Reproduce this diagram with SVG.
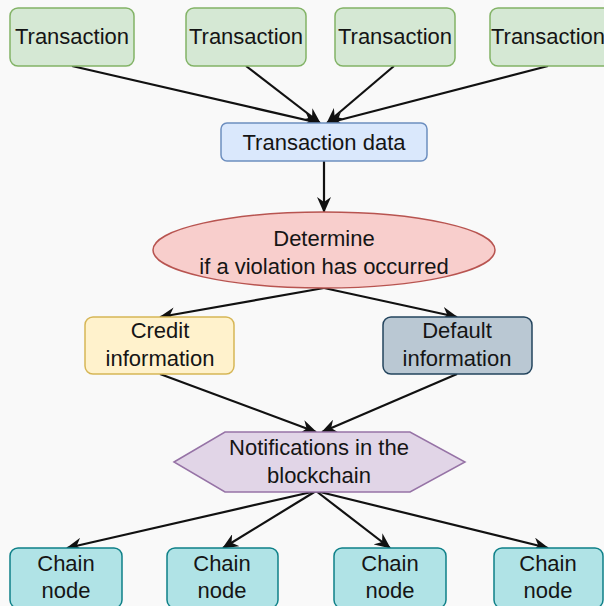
<svg xmlns="http://www.w3.org/2000/svg" width="604" height="606" viewBox="0 0 604 606">
  <style>
    .lbl { font-family: "Liberation Sans", Arial, sans-serif; font-size: 22px; fill: #151515; text-anchor: middle; dominant-baseline: central; }
    .tx { fill: #d5e8d4; stroke: #82b366; stroke-width: 1.5; }
    .data { fill: #dae8fc; stroke: #6c8ebf; stroke-width: 1.5; }
    .check { fill: #f8cecc; stroke: #b85450; stroke-width: 1.5; }
    .credit { fill: #fff2cc; stroke: #d6b656; stroke-width: 1.5; }
    .default { fill: #bac8d3; stroke: #23445d; stroke-width: 1.5; }
    .notify { fill: #e1d5e7; stroke: #9673a6; stroke-width: 1.5; }
    .chain { fill: #b0e3e6; stroke: #0e8088; stroke-width: 1.5; }
    .edge { fill: none; stroke: #111; stroke-width: 2.2; marker-end: url(#arrow); }
  </style>
  <defs>
    <!-- notched arrowhead shared by all connectors -->
    <marker id="arrow" viewBox="0 0 16 14" refX="15" refY="7" markerWidth="16" markerHeight="14" markerUnits="userSpaceOnUse" orient="auto">
      <path d="M0,0 L16,7 L0,14 L5,7 Z" fill="#111"/>
    </marker>
  </defs>
  <rect width="604" height="606" fill="#f9f9f9"/>

  <g id="connectors">
    <line class="edge" x1="72" y1="66" x2="319" y2="123"/>
    <line class="edge" x1="246" y1="66" x2="320" y2="123"/>
    <line class="edge" x1="394" y1="66" x2="327" y2="123"/>
    <line class="edge" x1="548" y1="66" x2="328" y2="123"/>
    <line class="edge" x1="324" y1="161" x2="324" y2="212"/>
    <line class="edge" x1="324" y1="288" x2="160" y2="317"/>
    <line class="edge" x1="324" y1="288" x2="457" y2="317"/>
    <line class="edge" x1="160" y1="374" x2="316" y2="432"/>
    <line class="edge" x1="457" y1="374" x2="322" y2="432"/>
    <line class="edge" x1="316" y1="491" x2="67" y2="548"/>
    <line class="edge" x1="316" y1="491" x2="223" y2="548"/>
    <line class="edge" x1="316" y1="491" x2="390" y2="548"/>
    <line class="edge" x1="316" y1="491" x2="548" y2="548"/>
  </g>

  <g id="tx1"><rect class="tx" x="10" y="8" width="124" height="58" rx="8"/><text class="lbl" x="72" y="36">Transaction</text></g>
  <g id="tx2"><rect class="tx" x="186" y="8" width="120" height="58" rx="8"/><text class="lbl" x="246" y="36">Transaction</text></g>
  <g id="tx3"><rect class="tx" x="335" y="8" width="120" height="58" rx="8"/><text class="lbl" x="395" y="36">Transaction</text></g>
  <g id="tx4"><rect class="tx" x="490" y="8" width="124" height="58" rx="8"/><text class="lbl" x="548" y="36">Transaction</text></g>

  <g id="transaction-data"><rect class="data" x="221" y="123" width="206" height="38" rx="6"/><text class="lbl" x="324" y="142">Transaction data</text></g>

  <g id="determine">
    <ellipse class="check" cx="324" cy="250" rx="171" ry="38"/>
    <text class="lbl" x="324" y="238">Determine</text>
    <text class="lbl" x="324" y="266">if a violation has occurred</text>
  </g>

  <g id="credit"><rect class="credit" x="85" y="317" width="149" height="57" rx="8"/>
    <text class="lbl" x="160" y="330">Credit</text><text class="lbl" x="160" y="358">information</text></g>
  <g id="default"><rect class="default" x="383" y="317" width="149" height="57" rx="8"/>
    <text class="lbl" x="457" y="330">Default</text><text class="lbl" x="457" y="358">information</text></g>

  <g id="notifications">
    <polygon class="notify" points="174,462 225,432 410,432 465,462 410,492 225,492"/>
    <text class="lbl" x="319" y="447">Notifications in the</text>
    <text class="lbl" x="319" y="475">blockchain</text>
  </g>

  <g id="chain1"><rect class="chain" x="10" y="548" width="112" height="60" rx="8"/><text class="lbl" x="66" y="563">Chain</text><text class="lbl" x="66" y="590">node</text></g>
  <g id="chain2"><rect class="chain" x="167" y="548" width="111" height="60" rx="8"/><text class="lbl" x="222" y="563">Chain</text><text class="lbl" x="222" y="590">node</text></g>
  <g id="chain3"><rect class="chain" x="334" y="548" width="112" height="60" rx="8"/><text class="lbl" x="390" y="563">Chain</text><text class="lbl" x="390" y="590">node</text></g>
  <g id="chain4"><rect class="chain" x="494" y="548" width="109" height="60" rx="8"/><text class="lbl" x="548" y="563">Chain</text><text class="lbl" x="548" y="590">node</text></g>
</svg>
